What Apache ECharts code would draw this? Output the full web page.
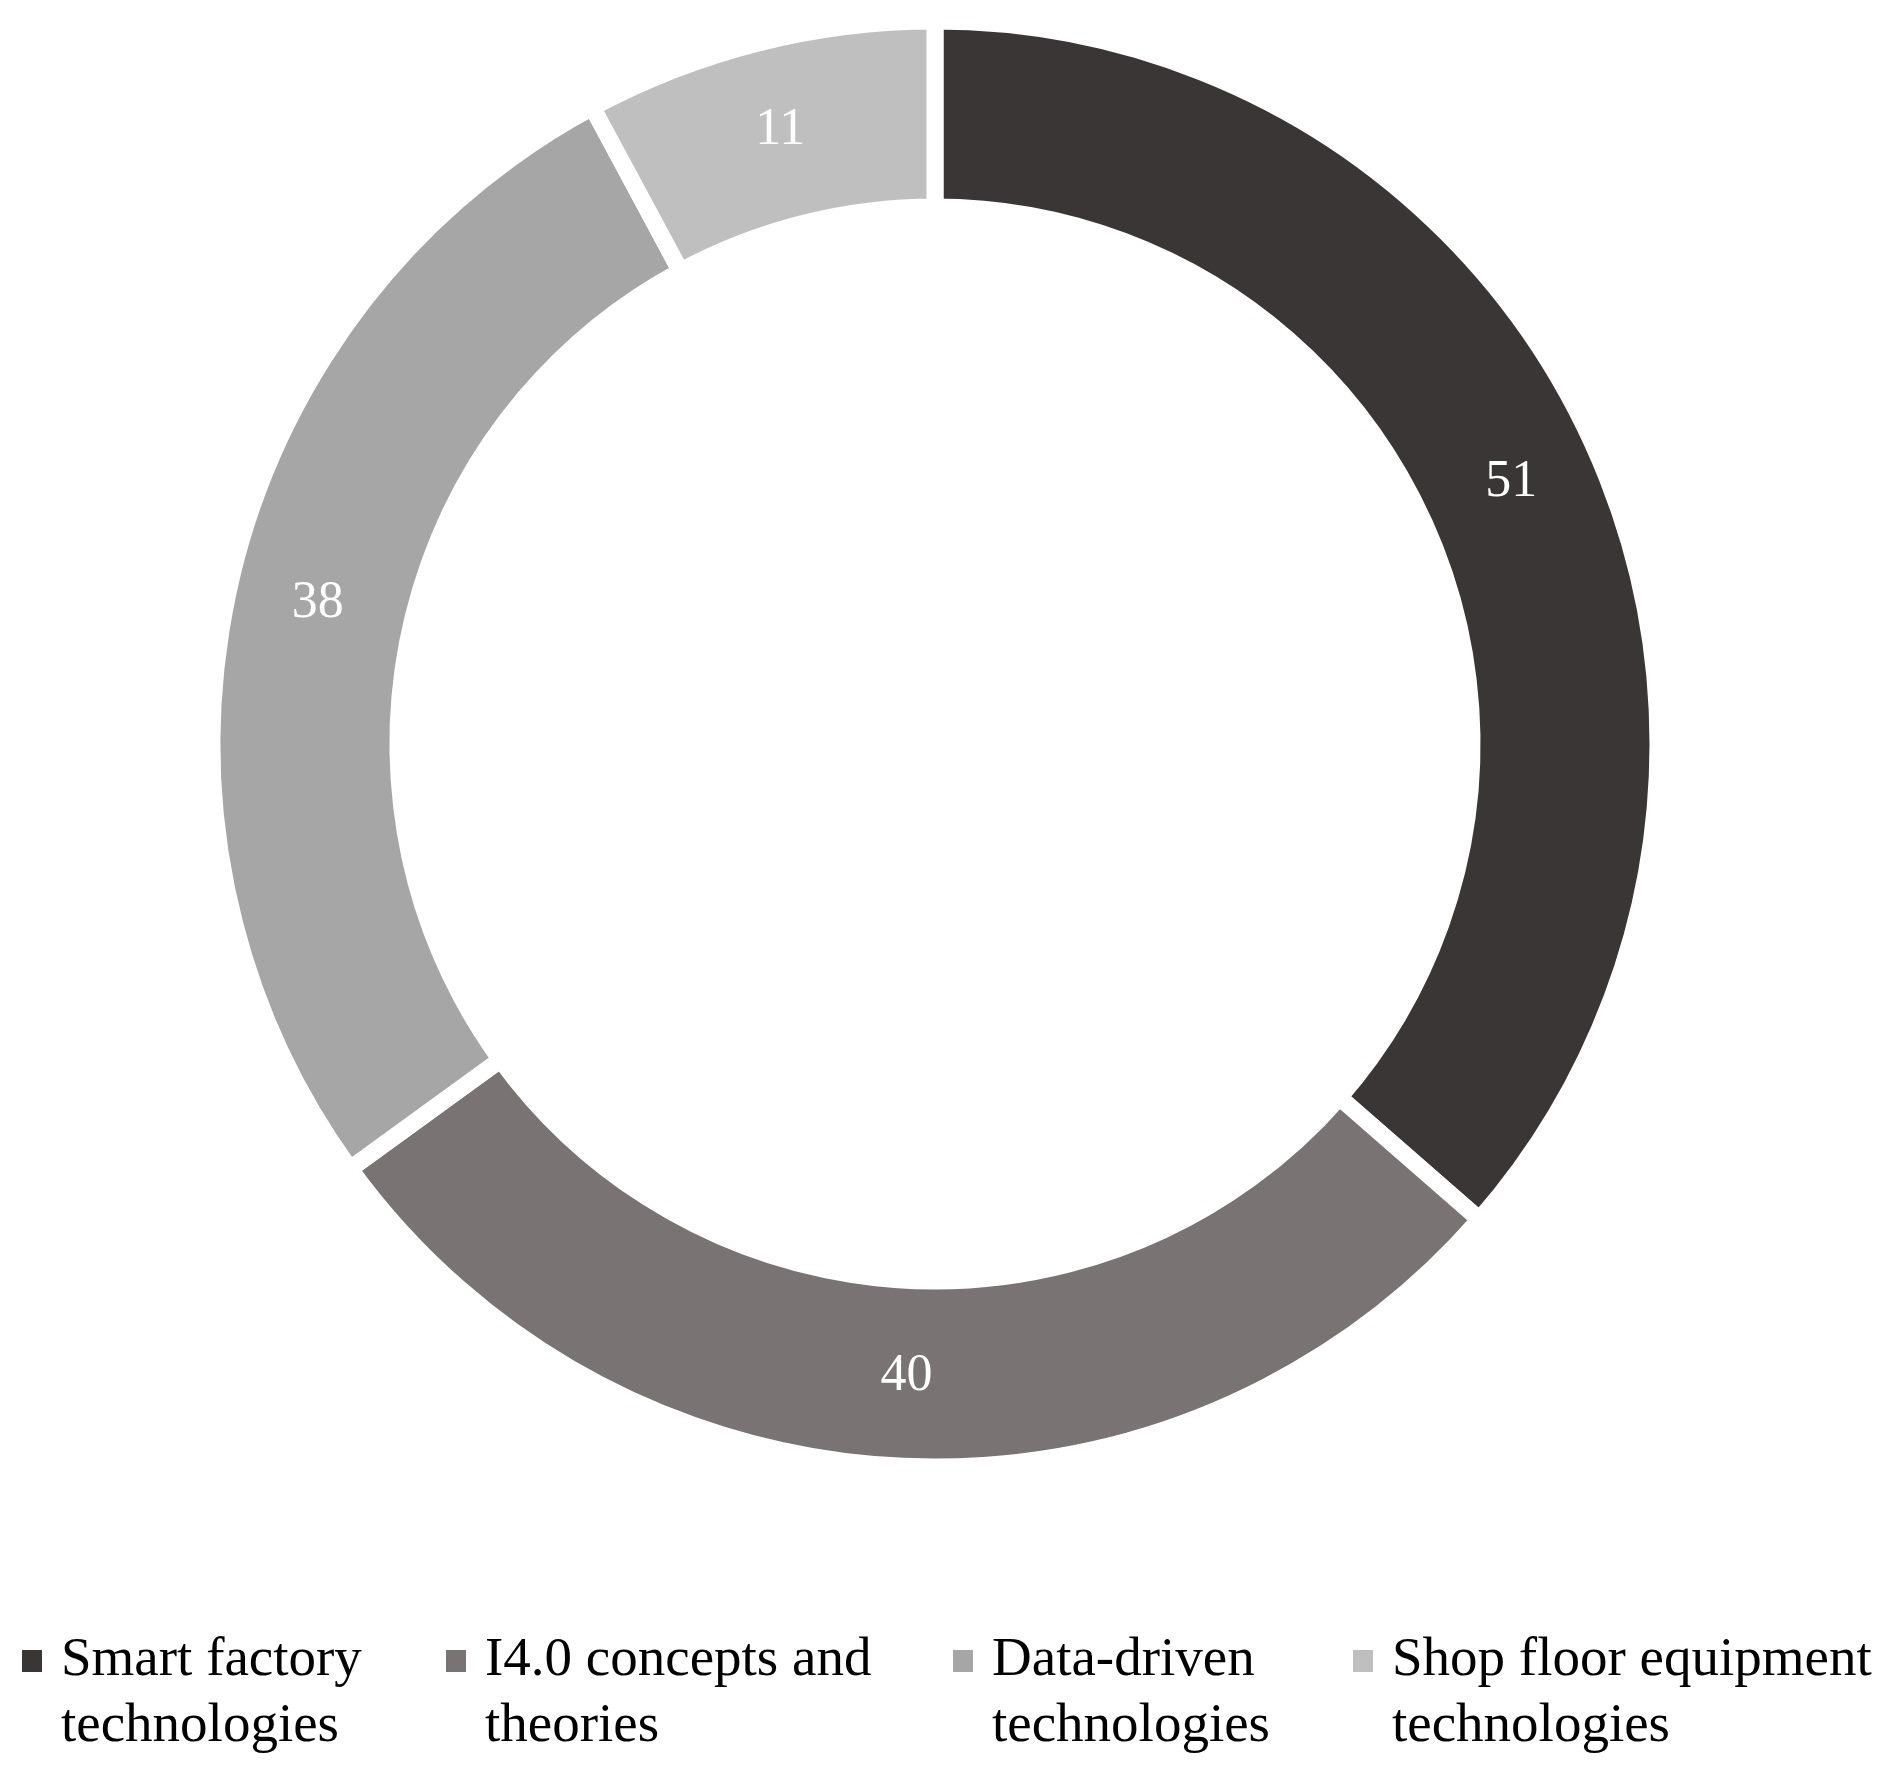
<!DOCTYPE html>
<html>
<head>
<meta charset="utf-8">
<script src="https://cdn.jsdelivr.net/npm/echarts@6/dist/echarts.min.js"></script>
<style>
  html, body { margin: 0; padding: 0; background: #fff; }
  #chart { width: 1887px; height: 1779px; }
</style>
</head>
<body>
<div id="chart"></div>
<script>
// data
var categories = ['Smart factory technologies', 'I4.0 concepts and theories', 'Data-driven technologies', 'Shop floor equipment technologies'];
var legendLines = [
  ['Smart factory', 'technologies'],
  ['I4.0 concepts and', 'theories'],
  ['Data-driven', 'technologies'],
  ['Shop floor equipment', 'technologies']
];
var values = [51, 40, 38, 11];
var colors = ['#3a3636', '#797373', '#a6a6a6', '#bfbfbf'];

var legendX = [20, 444, 951, 1351];
var serif = '"Palatino Linotype", "Book Antiqua", Palatino, "Liberation Serif", serif';

var chart = echarts.init(document.getElementById('chart'));

var pieData = categories.map(function (name, i) {
  return { name: name, value: values[i], itemStyle: { color: colors[i] } };
});

// one legend per item so the x positions can be set;
// an empty first line keeps the square level with the first text line
var legends = categories.map(function (name, i) {
  return {
    data: [name],
    left: legendX[i],
    top: 1562,
    padding: 0,
    icon: 'rect',
    itemWidth: 22,
    itemHeight: 24,
    itemGap: 0,
    selectedMode: false,
    formatter: function () { return ' \n' + legendLines[i].join('\n'); },
    textStyle: {
      fontFamily: serif,
      fontSize: 55,
      lineHeight: 66,
      color: '#000',
      padding: [0, 0, 0, 13]
    }
  };
});

chart.setOption({
  animation: false,
  backgroundColor: '#fff',
  legend: legends,
  series: [{
    type: 'pie',
    center: [935, 744],
    radius: [537, 723],
    startAngle: 90,
    clockwise: true,
    avoidLabelOverlap: false,
    itemStyle: {
      borderColor: '#fff',
      borderWidth: 17
    },
    label: {
      show: true,
      position: 'inside',
      formatter: '{c}',
      color: '#fff',
      fontFamily: serif,
      fontSize: 52
    },
    labelLine: { show: false },
    emphasis: { disabled: true },
    data: pieData
  }]
});
</script>
</body>
</html>
